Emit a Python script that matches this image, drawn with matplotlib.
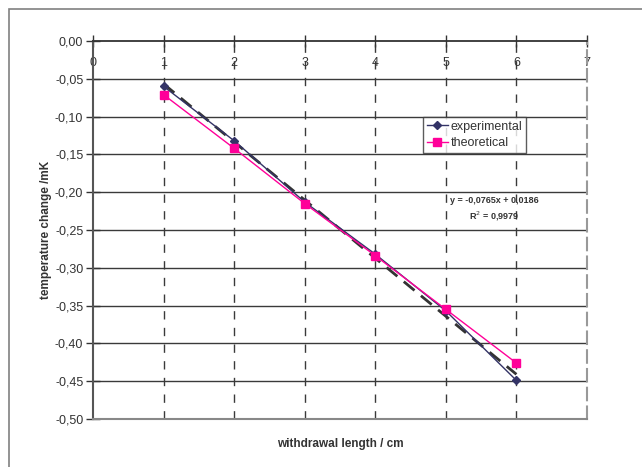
import matplotlib
matplotlib.use("Agg")
import matplotlib.pyplot as plt
from matplotlib.patches import Rectangle
import numpy as np

length_cm = [1, 2, 3, 4, 5, 6]
experimental = [-0.060, -0.132, -0.213, -0.282, -0.357, -0.449]
theoretical = [-0.071, -0.142, -0.215, -0.284, -0.355, -0.426]
x_ticks = [0, 1, 2, 3, 4, 5, 6, 7]
y_ticks = [0.0, -0.05, -0.10, -0.15, -0.20, -0.25, -0.30, -0.35, -0.40, -0.45, -0.50]
trend_text = "y = -0,0765x + 0,0186\nR$^2$ = 0,9979"

plt.rcParams['font.family'] = ['Liberation Sans', 'DejaVu Sans']

fig = plt.figure(figsize=(6.42, 4.67), dpi=100)
W, H = 642, 467
# outer chart frame
fig.patches.append(Rectangle((8.5 / W, -0.1), 1.2, 1 - 9 / H + 0.1, transform=fig.transFigure,
                             fill=False, edgecolor='#808080', linewidth=1.2))

ax = fig.add_axes([93 / W, 1 - 419 / H, (587 - 93) / W, (419 - 41) / H])
ax.set_xlim(0, 7)
ax.set_ylim(-0.5, 0)

# grid
for yv in y_ticks[1:-1]:
    ax.axhline(yv, color='#3a3a3a', lw=1.0, zorder=1)
for xv in x_ticks[1:-1]:
    ax.axvline(xv, color='#3a3a3a', lw=1.0, ls=(0, (6, 6)), zorder=1)

for s in ['right']:
    ax.spines[s].set_color('#999999')
    ax.spines[s].set_linestyle((0, (6, 3)))
    ax.spines[s].set_linewidth(1.5)
ax.spines['bottom'].set_color('#888888')
ax.spines['bottom'].set_linewidth(1.5)
ax.spines['left'].set_color('#555555')
ax.spines['left'].set_linewidth(1.5)
ax.spines['top'].set_color('#333333')
ax.spines['top'].set_linewidth(1.3)

ax.set_xticks(x_ticks)
ax.set_xticklabels([str(v) for v in x_ticks])
ax.set_yticks(y_ticks)
ax.set_yticklabels([f"{v:.2f}".replace('.', ',') for v in y_ticks])
ax.tick_params(axis='x', top=True, bottom=False, labeltop=True, labelbottom=False,
               direction='inout', length=8, width=1, color='#333333', pad=-24,
               labelsize=9, labelcolor='#333333')
ax.tick_params(axis='y', direction='inout', length=10, width=1, color='#333333',
               labelsize=9, labelcolor='#333333', pad=2)

# trendline
coef = np.polyfit(length_cm, experimental, 1)
xt = np.array([min(length_cm), max(length_cm)])
ax.plot(xt, np.polyval(coef, xt), color='#333333', lw=2.0, ls=(0, (5, 3)), zorder=3)

ax.plot(length_cm, experimental, color='#333366', lw=1.0, marker='D', ms=4,
        label='experimental', zorder=4)
ax.plot(length_cm, theoretical, color='#ff0099', lw=1.0, marker='s', ms=6,
        label='theoretical', zorder=4)

ax.text(5.69, -0.223, trend_text, fontsize=6.5, color='#333333', ha='center', va='center',
        fontweight='bold', linespacing=1.5)

leg = ax.legend(loc='upper left', bbox_to_anchor=((423 - 93) / 494, 1 - (117 - 41) / 378),
                fontsize=9, frameon=True, fancybox=False, edgecolor='#333333',
                borderpad=0.3, labelspacing=0.35, handlelength=1.7, handletextpad=0.2,
                borderaxespad=0)
leg.get_frame().set_linewidth(1.0)
for t in leg.get_texts():
    t.set_color('#333333')

ax.set_xlabel('withdrawal length / cm', fontsize=8.5, fontweight='bold', color='#333333', labelpad=14)
ax.set_ylabel('temperature change /mK', fontsize=8.5, fontweight='bold', color='#333333', labelpad=2)

fig.savefig('out.png', dpi=100)
